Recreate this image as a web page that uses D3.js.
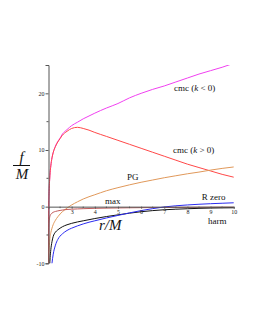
<!DOCTYPE html>
<html>
<head>
<meta charset="utf-8">
<script src="https://cdn.jsdelivr.net/npm/d3@7"></script>
<style>
  body { margin: 0; background: #fff; }
  svg text { font-family: "Liberation Serif", "DejaVu Serif", serif; }
</style>
</head>
<body>
<div id="chart"></div>
<script>
// shared r/M sample points
const rValues = [2.0, 2.01, 2.02, 2.03, 2.05, 2.07, 2.1, 2.15, 2.2, 2.3, 2.4, 2.5, 2.6, 2.8, 3.0,
    3.25, 3.5, 3.75, 4.0, 4.5, 5.0, 5.5, 6.0, 6.5, 7.0, 7.5, 8.0, 8.5, 9.0, 9.5, 10];

// f/M for each slicing
const cmcNeg = [-12, 0, 2, 3.2, 4.8, 6.0, 7.2, 8.6, 9.5, 10.7, 11.5, 12.1, 12.8, 13.6, 14.3,
    14.9, 15.5, 16.0, 16.5, 17.4, 18.2, 19.2, 20.0, 20.7, 21.3, 22.0, 22.7, 23.4, 24.0, 24.6, 25.3];
const cmcPos = [-12, 0, 2, 3.2, 4.8, 6.0, 7.2, 8.6, 9.5, 10.6, 11.4, 12.0, 12.6, 13.3, 13.8,
    14.0, 13.8, 13.5, 13.1, 12.4, 11.7, 11.0, 10.3, 9.6, 8.9, 8.2, 7.5, 6.9, 6.3, 5.7, 5.2];
const pg = [-14, -9.4, -8.0, -7.2, -6.1, -5.3, -4.6, -3.8, -3.2, -2.4, -1.8, -1.3, -0.9, -0.25, 0.3,
    0.85, 1.35, 1.75, 2.1, 2.8, 3.35, 3.85, 4.3, 4.7, 5.1, 5.45, 5.8, 6.1, 6.45, 6.75, 7.0];
const maxSlice = [-12, -5, -3.0, -2.4, -1.9, -1.6, -1.35, -1.15, -1.0, -0.85, -0.75, -0.67, -0.6, -0.5, -0.45,
    -0.4, -0.36, -0.33, -0.3, -0.26, -0.23, -0.2, -0.18, -0.16, -0.15, -0.14, -0.13, -0.12, -0.11, -0.1, -0.1];
const harm = [-16, -14, -13, -12, -10.5, -9.0, -7.6, -6.2, -5.3, -4.5, -4.1, -3.8, -3.55, -3.2, -2.95,
    -2.7, -2.5, -2.3, -2.1, -1.75, -1.45, -1.15, -0.9, -0.7, -0.55, -0.45, -0.37, -0.3, -0.25, -0.22, -0.2];
const rZero = [-20, -18, -17, -16, -14.5, -13.2, -12, -10, -8.5, -6.8, -5.8, -5.2, -4.8, -4.2, -3.8,
    -3.4, -3.05, -2.75, -2.5, -2.0, -1.55, -1.1, -0.7, -0.35, -0.05, 0.15, 0.3, 0.42, 0.52, 0.6, 0.68];

const xTicks = [3, 4, 5, 6, 7, 8, 9, 10];
const yTicks = [-10, 0, 10, 20];

const series = [
    { name: "cmcNeg", values: cmcNeg, color: "#f040f0" },
    { name: "cmcPos", values: cmcPos, color: "#ff4848" },
    { name: "pg", values: pg, color: "#e0985a" },
    { name: "max", values: maxSlice, color: "#c05a5a" },
    { name: "harm", values: harm, color: "#111111" },
    { name: "rzero", values: rZero, color: "#2c2cf0" }
];

const width = 255, height = 330;

const svg = d3.select("#chart").append("svg")
    .attr("width", width)
    .attr("height", height);

// scales
const x = d3.scaleLinear().domain([2, 10]).range([48.5, 233.7]);
const y = d3.scaleLinear().domain([-10, 25]).range([263.3, 65]);

svg.append("clipPath").attr("id", "plotClip")
    .append("rect")
    .attr("x", x(2) - 1).attr("y", y(25))
    .attr("width", x(10) - x(2) + 2).attr("height", y(-10) - y(25));

const line = d3.line()
    .x(d => x(d[0]))
    .y(d => y(d[1]))
    .curve(d3.curveMonotoneX);

// curves
svg.append("g").attr("clip-path", "url(#plotClip)")
    .selectAll("path")
    .data(series)
    .enter()
    .append("path")
    .attr("fill", "none")
    .attr("stroke", d => d.color)
    .attr("stroke-width", 1)
    .attr("d", d => line(rValues.map((r, i) => [r, d.values[i]])));

// y axis
const yAxis = d3.axisLeft(y).tickValues(yTicks).tickSize(3).tickFormat(d => d < 0 ? "-" + Math.abs(d) : d);
const yAxisGroup = svg.append("g")
    .attr("transform", `translate(${x(2)},0)`)
    .call(yAxis);

// minor y ticks
svg.append("g").selectAll("line")
    .data([-5, 5, 15])
    .enter()
    .append("line")
    .attr("x1", x(2) - 2).attr("x2", x(2))
    .attr("y1", d => y(d)).attr("y2", d => y(d))
    .attr("stroke", "#555");

// x axis on f = 0
const xAxis = d3.axisBottom(x).tickValues(xTicks).tickSize(2).tickFormat(d3.format("d"));
const xAxisGroup = svg.append("g")
    .attr("transform", `translate(0,${y(0)})`)
    .call(xAxis);

// minor x ticks
svg.append("g").selectAll("line")
    .data(d3.range(2.5, 10, 1))
    .enter()
    .append("line")
    .attr("x1", d => x(d)).attr("x2", d => x(d))
    .attr("y1", y(0)).attr("y2", y(0) + 1.5)
    .attr("stroke", "#555");

[yAxisGroup, xAxisGroup].forEach(g => {
    g.select(".domain").attr("stroke", "#555").attr("stroke-width", 1);
    g.selectAll(".tick line").attr("stroke", "#555");
    g.selectAll(".tick text")
        .attr("font-size", "6px")
        .attr("fill", "#222")
        .style("font-family", "Liberation Serif, serif");
});
yAxisGroup.selectAll(".tick text").attr("x", -4);
xAxisGroup.selectAll(".tick text").attr("y", 3.5);

// curve labels
const labels = [
    { parts: [["cmc (", false], ["k", true], [" < 0)", false]], r: 7.42, f: 20.9 },
    { parts: [["cmc (", false], ["k", true], [" > 0)", false]], r: 7.38, f: 10.0 },
    { parts: [["PG", false]], r: 5.39, f: 5.25 },
    { parts: [["max", false]], r: 4.44, f: 1.0 },
    { parts: [["R zero", false]], r: 8.62, f: 1.76 },
    { parts: [["harm", false]], r: 8.89, f: -2.5 }
];

labels.forEach(l => {
    const t = svg.append("text")
        .attr("x", x(l.r))
        .attr("y", y(l.f) + 3)
        .attr("font-size", "9px")
        .attr("fill", "#111");
    l.parts.forEach(p => {
        t.append("tspan")
            .style("font-style", p[1] ? "italic" : "normal")
            .text(p[0]);
    });
});

// axis titles
svg.append("text")
    .attr("x", x(4.18))
    .attr("y", y(-3.2) + 5)
    .attr("font-size", "15px")
    .style("font-style", "italic")
    .attr("fill", "#111")
    .text("r/M");

svg.append("text")
    .attr("x", 21.5).attr("y", 162)
    .attr("text-anchor", "middle")
    .attr("font-size", "15px")
    .style("font-style", "italic")
    .attr("fill", "#111")
    .text("f");

svg.append("line")
    .attr("x1", 13).attr("x2", 30)
    .attr("y1", 165.5).attr("y2", 165.5)
    .attr("stroke", "#111");

svg.append("text")
    .attr("x", 22).attr("y", 178.5)
    .attr("text-anchor", "middle")
    .attr("font-size", "15px")
    .style("font-style", "italic")
    .attr("fill", "#111")
    .text("M");
</script>
</body>
</html>
